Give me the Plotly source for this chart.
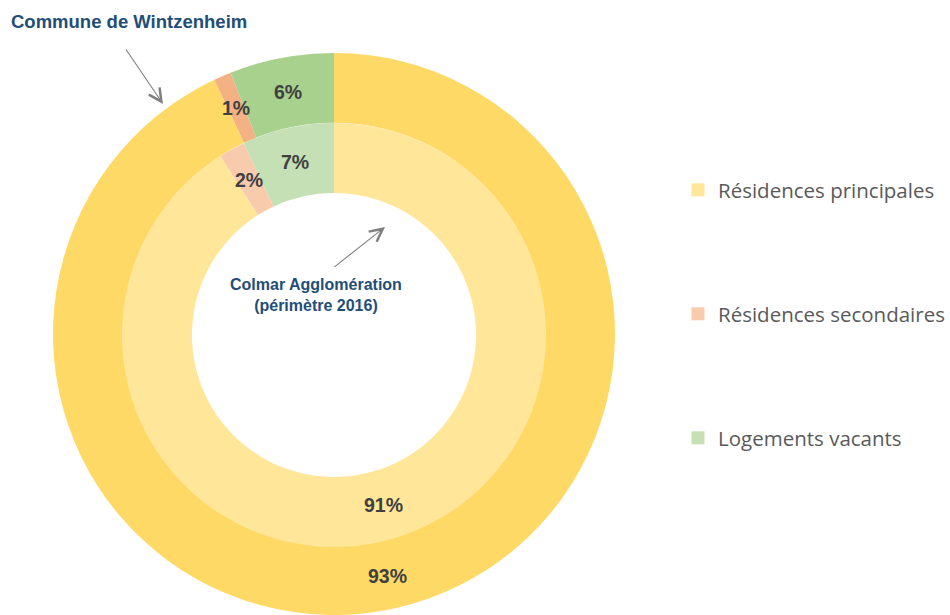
import math
import plotly.graph_objects as go

# Housing categories
categories = ["Résidences principales", "Résidences secondaires", "Logements vacants"]

# Shares (%) — outer ring: commune, inner ring: agglomeration
commune_values = [93, 1, 6]
agglo_values = [91, 2, 7]

commune_colors = ["#FFD966", "#F4B183", "#A9D18E"]
agglo_colors = ["#FFE699", "#F8CBAD", "#C5E0B4"]

commune_title = "Commune de Wintzenheim"
agglo_title = "Colmar Agglomération<br>(périmètre 2016)"

W, H = 950, 615
CX, CY = 334, 335          # ring centre (pixels)
R_OUT, R_MID, R_IN = 282, 212, 142

LABEL_FONT = dict(family="Liberation Sans, Arial", size=19.5, color="#404040")
TITLE_COLOR = "#1F4E79"


def px_domain(r):
    return dict(
        x=[(CX - r) / W, (CX + r) / W],
        y=[max(0, 1 - (CY + r) / H), 1 - (CY - r) / H],
    )


fig = go.Figure()

fig.add_trace(go.Pie(
    labels=categories, values=commune_values, sort=False, direction="clockwise",
    rotation=0, hole=R_MID / R_OUT, domain=px_domain(R_OUT),
    marker=dict(colors=commune_colors, line=dict(width=0)),
    textinfo="none", hoverinfo="label+percent", showlegend=False,
))
fig.add_trace(go.Pie(
    labels=categories, values=agglo_values, sort=False, direction="clockwise",
    rotation=0, hole=R_IN / R_MID, domain=px_domain(R_MID),
    marker=dict(colors=agglo_colors, line=dict(width=0)),
    textinfo="none", hoverinfo="label+percent", showlegend=False,
))

# Percentage labels placed at the middle of each slice within its ring
annotations = []
for values, r0, r1 in [(commune_values, R_MID, R_OUT), (agglo_values, R_IN, R_MID)]:
    total = sum(values)
    cum = 0
    rm = (r0 + r1) / 2
    for v in values:
        mid = (cum + v / 2) / total * 2 * math.pi
        cum += v
        x = CX + rm * math.sin(mid)
        y = CY - rm * math.cos(mid)
        annotations.append(dict(
            x=x / W, y=1 - y / H, xref="paper", yref="paper",
            text=f"<b>{v}%</b>", showarrow=False, font=LABEL_FONT,
            xanchor="center", yanchor="middle",
        ))

# Ring titles and pointer arrows
annotations += [
    dict(x=9 / W, y=1 - 22 / H, xref="paper", yref="paper", xanchor="left",
         yanchor="middle", text=f"<b>{commune_title}</b>", showarrow=False,
         font=dict(family="Liberation Sans, Arial", size=18.5, color=TITLE_COLOR)),
    dict(x=316 / W, y=1 - 295 / H, xref="paper", yref="paper", xanchor="center",
         yanchor="middle", text=f"<b>{agglo_title}</b>", showarrow=False,
         font=dict(family="Liberation Sans, Arial", size=16, color=TITLE_COLOR)),
    dict(x=163 / W, y=1 - 104 / H, xref="paper", yref="paper", text="",
         showarrow=True, ax=-38, ay=-56, arrowhead=5, arrowsize=2.3,
         arrowwidth=1.1, arrowcolor="#7F7F7F"),
    dict(x=385 / W, y=1 - 227 / H, xref="paper", yref="paper", text="",
         showarrow=True, ax=-52, ay=41, arrowhead=5, arrowsize=2.3,
         arrowwidth=1.1, arrowcolor="#7F7F7F"),
]

# Legend entries, one legend per category
legend_y = [190, 314, 438]
legend_names = ["legend", "legend2", "legend3"]
for name, color, lname in zip(categories, agglo_colors, legend_names):
    fig.add_trace(go.Scatter(
        x=[None], y=[None], mode="markers", name=name, legend=lname,
        marker=dict(symbol="square", size=13, color=color),
        showlegend=True, hoverinfo="skip",
    ))

legend_style = dict(font=dict(family="Open Sans", size=20.5, color="#595959"),
                    bgcolor="rgba(0,0,0,0)", x=678 / W, xanchor="left",
                    yanchor="middle", itemwidth=30)
layout_legends = {}
for lname, ly in zip(legend_names, legend_y):
    layout_legends[lname] = dict(legend_style, y=1 - ly / H)

fig.update_layout(
    width=W, height=H,
    margin=dict(l=0, r=0, t=0, b=0),
    paper_bgcolor="white", plot_bgcolor="white",
    xaxis=dict(visible=False), yaxis=dict(visible=False),
    annotations=annotations,
    **layout_legends,
)

fig.write_html("out.html")
